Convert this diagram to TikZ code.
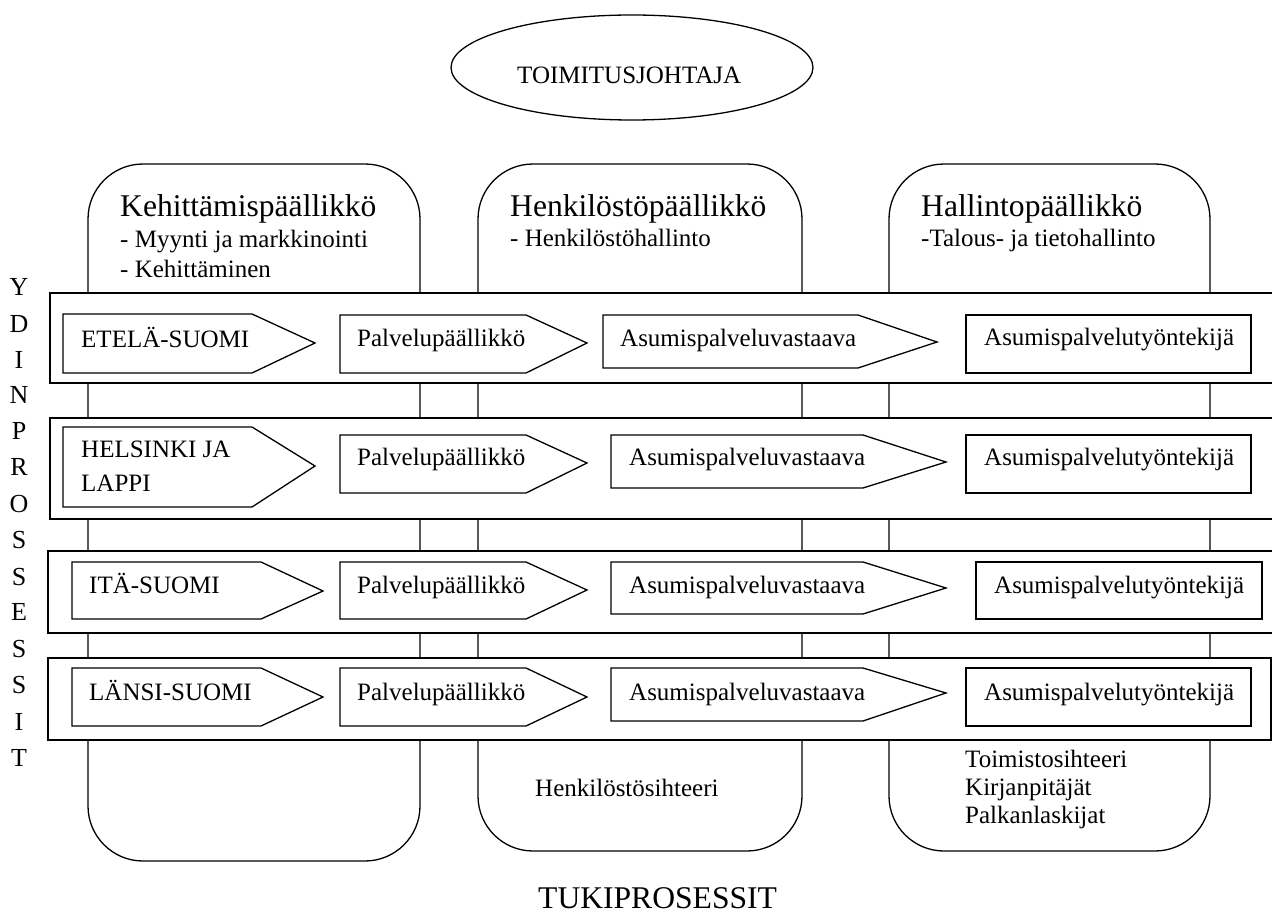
\documentclass[tikz,border=0pt]{standalone}
\usepackage{fontspec}
\setmainfont{Liberation Serif}
\newcommand\pentabox[6]{% left, top, shoulder, tip, tipy, bottom
  \draw[ln,fill=white] (#1,#2) -- (#3,#2) -- (#4,#5) -- (#3,#6) -- (#1,#6) -- cycle;}
\begin{document}
\begin{tikzpicture}[x=1pt,y=-1pt,
  ln/.style={line width=1.3pt,line join=miter},
  txt/.style={inner sep=0pt,anchor=base west,font=\fontsize{25}{29}\selectfont},
  ttl/.style={inner sep=0pt,anchor=base west,font=\fontsize{31.6}{36}\selectfont},
  vl/.style={inner sep=0pt,anchor=base,font=\fontsize{26}{29}\selectfont}]
\useasboundingbox (0,0) rectangle (1272,915);
% top ellipse
\draw[ln] (632,67.5) ellipse [x radius=181, y radius=52.5];
\node[txt] (ceo) at (517,84) {TOIMITUSJOHTAJA};
% columns
\draw[ln,rounded corners=55pt] (88,164) rectangle (420,861);
\draw[ln,rounded corners=55pt] (478,164) rectangle (802,851);
\draw[ln,rounded corners=55pt] (889,164) rectangle (1210,851);
% column titles
\node[ttl] (k1) at (120,216) {Kehittämispäällikkö};
\node[txt] (k2) at (120,247) {- Myynti ja markkinointi};
\node[txt] (k3) at (120,277) {- Kehittäminen};
\node[ttl] (h1) at (510,216) {Henkilöstöpäällikkö};
\node[txt] (h2) at (510,246) {- Henkilöstöhallinto};
\node[ttl] (a1) at (921,216) {Hallintopäällikkö};
\node[txt] (a2) at (921,246) {-Talous- ja tietohallinto};
% row bands
\draw[ln,fill=white] (50,293) rectangle (1290,383);
\draw[ln,fill=white] (50,418) rectangle (1290,519);
\draw[ln,fill=white] (48,551) rectangle (1290,633);
\draw[ln,fill=white] (48,658) rectangle (1271,740);
% row 1
\pentabox{63}{314}{252}{315}{343}{373}
\pentabox{340}{315}{526}{587}{343}{373}
\pentabox{603}{315}{858}{937}{342}{368}
\draw[ln] (966,315) rectangle (1251,373);
\node[txt] (r1a) at (81,347) {ETELÄ-SUOMI};
\node[txt] (r1b) at (357,346) {Palvelupäällikkö};
\node[txt] (r1c) at (620,346) {Asumispalveluvastaava};
\node[txt] (r1d) at (984,345) {Asumispalvelutyöntekijä};
% row 2
\pentabox{63}{427}{252}{315}{466}{507}
\pentabox{340}{435}{526}{587}{463}{493}
\pentabox{611}{435}{863}{946}{462}{488}
\draw[ln] (966,435) rectangle (1251,493);
\node[txt] (r2a) at (81,457) {HELSINKI JA};
\node[txt] (r2a2) at (81,491) {LAPPI};
\node[txt] (r2b) at (357,465) {Palvelupäällikkö};
\node[txt] (r2c) at (629,465) {Asumispalveluvastaava};
\node[txt] (r2d) at (984,465) {Asumispalvelutyöntekijä};
% row 3
\pentabox{72}{562}{261}{323}{591}{619}
\pentabox{340}{562}{526}{587}{590}{619}
\pentabox{611}{562}{863}{946}{588}{614}
\draw[ln] (976,562) rectangle (1262,619);
\node[txt] (r3a) at (89,593) {ITÄ-SUOMI};
\node[txt] (r3b) at (357,593) {Palvelupäällikkö};
\node[txt] (r3c) at (629,593) {Asumispalveluvastaava};
\node[txt] (r3d) at (994,593) {Asumispalvelutyöntekijä};
% row 4
\pentabox{72}{668}{261}{323}{697}{726}
\pentabox{340}{668}{526}{587}{697}{726}
\pentabox{611}{668}{863}{946}{693}{721}
\draw[ln] (966,668) rectangle (1251,726);
\node[txt] (r4a) at (89,700) {LÄNSI-SUOMI};
\node[txt] (r4b) at (357,700) {Palvelupäällikkö};
\node[txt] (r4c) at (629,700) {Asumispalveluvastaava};
\node[txt] (r4d) at (984,700) {Asumispalvelutyöntekijä};
% support staff
\node[txt] (hs) at (535,796) {Henkilöstösihteeri};
\node[txt] (ts) at (965,767) {Toimistosihteeri};
\node[txt] (kp) at (965,795) {Kirjanpitäjät};
\node[txt] (pl) at (965,823) {Palkanlaskijat};
\node[ttl] (tuki) at (538,908) {TUKIPROSESSIT};
% vertical label
\foreach \ch/\yy [count=\i] in {Y/295,D/332,I/368,N/403,P/439,R/475,O/512,S/548,S/585,E/620,S/657,S/693,I/730,T/766}
  \node[vl] (v\i) at (19,\yy) {\ch};
\end{tikzpicture}
\end{document}
